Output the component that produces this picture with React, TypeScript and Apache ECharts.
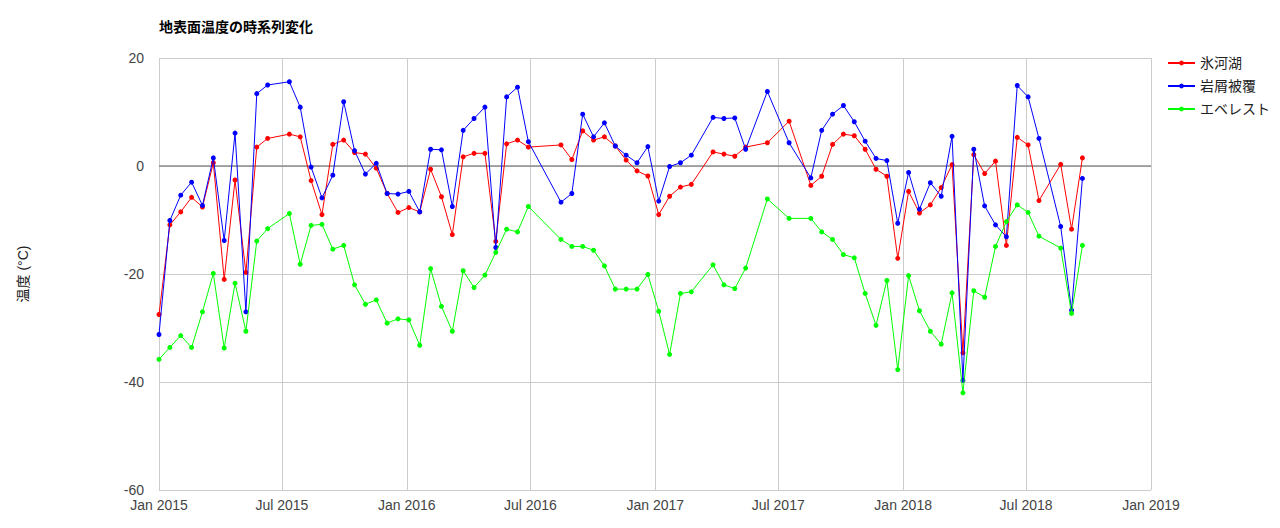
import React, { useEffect, useRef } from "react";
import * as echarts from "echarts";

const dates = [
  "2015-01-01", "2015-01-17", "2015-02-02", "2015-02-18", "2015-03-06", "2015-03-22", "2015-04-07", "2015-04-23",
  "2015-05-09", "2015-05-25", "2015-06-10", "2015-07-12", "2015-07-28", "2015-08-13", "2015-08-29", "2015-09-14",
  "2015-09-30", "2015-10-16", "2015-11-01", "2015-11-17", "2015-12-03", "2015-12-19", "2016-01-04", "2016-01-20",
  "2016-02-05", "2016-02-21", "2016-03-08", "2016-03-24", "2016-04-09", "2016-04-25", "2016-05-11", "2016-05-27",
  "2016-06-12", "2016-06-28", "2016-08-15", "2016-08-31", "2016-09-16", "2016-10-02", "2016-10-18", "2016-11-03",
  "2016-11-19", "2016-12-05", "2016-12-21", "2017-01-06", "2017-01-22", "2017-02-07", "2017-02-23", "2017-03-27",
  "2017-04-12", "2017-04-28", "2017-05-14", "2017-06-15", "2017-07-17", "2017-08-18", "2017-09-03", "2017-09-19",
  "2017-10-05", "2017-10-21", "2017-11-06", "2017-11-22", "2017-12-08", "2017-12-24", "2018-01-09", "2018-01-25",
  "2018-02-10", "2018-02-26", "2018-03-14", "2018-03-30", "2018-04-15", "2018-05-01", "2018-05-17", "2018-06-02",
  "2018-06-18", "2018-07-04", "2018-07-20", "2018-08-21", "2018-09-06", "2018-09-22",
];

const glacierLake = [
  -27.5, -10.9, -8.5, -5.8, -7.6, 0.6, -21.0, -2.6,
  -19.7, 3.5, 5.1, 5.9, 5.4, -2.7, -9.0, 4.0,
  4.8, 2.5, 2.2, -0.4, -5.1, -8.6, -7.7, -8.5,
  -0.6, -5.7, -12.7, 1.7, 2.35, 2.35, -13.95, 4.1,
  4.8, 3.5, 3.9, 1.2, 6.5, 4.8, 5.4, 3.7,
  1.1, -0.9, -1.85, -9.0, -5.6, -3.9, -3.4, 2.6,
  2.2, 1.8, 3.5, 4.3, 8.3, -3.6, -1.9, 4.0,
  5.9, 5.6, 3.1, -0.6, -1.9, -17.1, -4.7, -8.7,
  -7.2, -4.0, 0.25, -34.6, 2.1, -1.4, 0.9, -14.7,
  5.3, 3.9, -6.4, 0.3, -11.7, 1.5,
];

const debrisCover = [
  -31.2, -10.1, -5.4, -3.0, -7.3, 1.5, -13.8, 6.1,
  -27.0, 13.4, 15.0, 15.6, 10.9, -0.2, -5.9, -1.7,
  11.9, 2.85, -1.5, 0.5, -5.1, -5.2, -4.7, -8.5,
  3.1, 3.0, -7.5, 6.6, 8.8, 10.9, -15.1, 12.8,
  14.6, 4.5, -6.7, -5.1, 9.6, 5.4, 8.0, 3.7,
  2.0, 0.6, 3.6, -6.5, -0.1, 0.6, 2.0, 9.0,
  8.8, 8.9, 3.1, 13.8, 4.3, -2.2, 6.6, 9.6,
  11.2, 8.2, 4.6, 1.4, 1.0, -10.6, -1.2, -8.0,
  -3.1, -5.6, 5.5, -39.7, 3.1, -7.4, -10.9, -13.1,
  14.9, 12.8, 5.1, -11.2, -26.7, -2.3,
];

const everest = [
  -35.8, -33.6, -31.4, -33.6, -27.0, -19.9, -33.7, -21.7,
  -30.6, -13.9, -11.6, -8.8, -18.2, -11.0, -10.8, -15.4,
  -14.7, -22.0, -25.6, -24.8, -29.1, -28.3, -28.5, -33.2,
  -19.0, -26.0, -30.6, -19.4, -22.5, -20.2, -16.0, -11.7,
  -12.2, -7.5, -13.6, -14.9, -14.9, -15.6, -18.5, -22.8,
  -22.8, -22.8, -20.1, -26.9, -34.9, -23.6, -23.3, -18.3,
  -22.0, -22.7, -18.9, -6.1, -9.7, -9.7, -12.2, -13.6,
  -16.4, -17.0, -23.6, -29.5, -21.2, -37.7, -20.3, -26.8,
  -30.6, -33.0, -23.5, -42.0, -23.1, -24.3, -14.9, -10.3,
  -7.2, -8.6, -13.0, -15.2, -27.3, -14.7,
];

const seriesNames = ["氷河湖", "岩屑被覆", "エベレスト"];
const seriesColors = ["#ff0000", "#0000ff", "#00ff00"];
const yTicks = { min: -60, max: 20, interval: 20 };

const FONT = "'Liberation Sans', Arial, 'Noto Sans CJK JP', sans-serif";

export default function App() {
  const ref = useRef<HTMLDivElement>(null);

  useEffect(() => {
    if (!ref.current) return;
    const chart = echarts.init(ref.current, undefined, { renderer: "svg" });
    const valueSets = [glacierLake, debrisCover, everest];
    const series = valueSets.map((vals, i) => ({
      name: seriesNames[i],
      type: "line",
      data: dates.map((d, j) => [d, vals[j]]),
      symbol: "circle",
      symbolSize: 5,
      showSymbol: true,
      lineStyle: { width: 1, color: seriesColors[i] },
      itemStyle: { color: seriesColors[i] },
      emphasis: { disabled: true },
      z: 3 + i,
      ...(i === 0
        ? {
            markLine: {
              silent: true,
              symbol: "none",
              label: { show: false },
              lineStyle: { color: "#8c8c8c", width: 1.5, type: "solid" },
              data: [{ yAxis: 0 }],
              z: 1,
            },
          }
        : {}),
    }));

    chart.setOption({
      animation: false,
      textStyle: { fontFamily: FONT },
      title: {
        text: "地表面温度の時系列変化",
        left: 159,
        top: 20,
        padding: 0,
        textStyle: { fontSize: 14, fontWeight: "bold", color: "#000", fontFamily: FONT },
      },
      legend: {
        orient: "vertical",
        left: 1167,
        top: 56,
        padding: 0,
        itemWidth: 27,
        itemHeight: 6,
        itemGap: 9,
        data: seriesNames,
        textStyle: { fontSize: 14, color: "#222", fontFamily: FONT },
      },
      grid: { left: 159, right: 129, top: 58, bottom: 38, containLabel: false },
      xAxis: {
        type: "time",
        min: "2015-01-01",
        max: "2019-01-01",
        splitNumber: 8,
        axisLine: { show: false },
        axisTick: { show: false },
        axisLabel: {
          formatter: "{MMM} {yyyy}",
          fontSize: 14,
          color: "#444",
          margin: 8,
          fontWeight: "normal",
          showMinLabel: true,
          showMaxLabel: true,
          hideOverlap: false,
          fontFamily: FONT,
        },
        splitLine: { show: true, lineStyle: { color: "#cccccc", width: 1 } },
      },
      yAxis: {
        type: "value",
        min: yTicks.min,
        max: yTicks.max,
        interval: yTicks.interval,
        name: "温度 (°C)",
        nameLocation: "middle",
        nameRotate: 90,
        nameGap: 129,
        nameTextStyle: { fontSize: 14, color: "#222", fontFamily: FONT },
        axisLine: { show: false },
        axisTick: { show: false },
        axisLabel: { fontSize: 14, color: "#444", margin: 15, fontFamily: FONT },
        splitLine: { show: true, lineStyle: { color: "#cccccc", width: 1 } },
      },
      series,
    });

    return () => chart.dispose();
  }, []);

  return (
    <div
      ref={ref}
      style={{ position: "fixed", left: 0, top: 0, width: 1280, height: 528, background: "#fff" }}
    />
  );
}
